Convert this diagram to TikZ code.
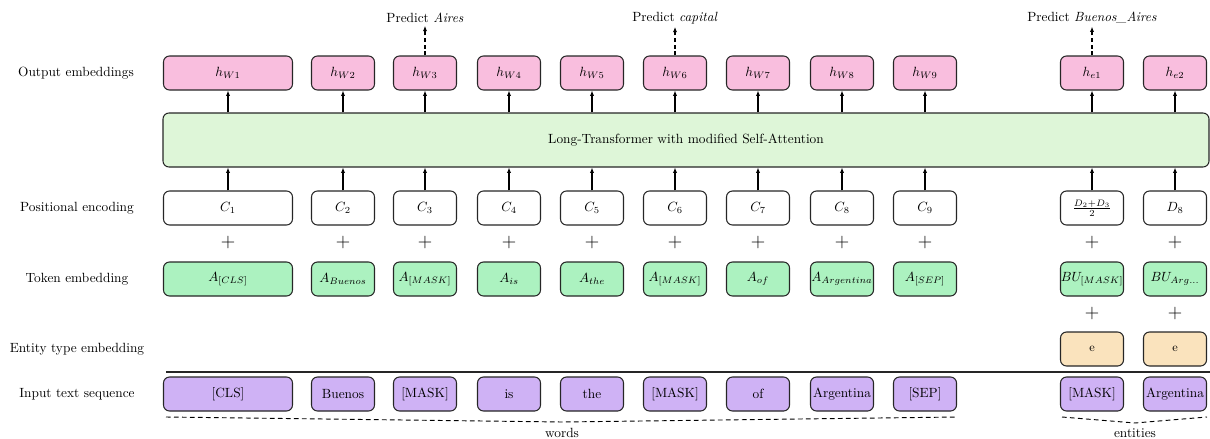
\documentclass[tikz,border=0pt]{standalone}
\usetikzlibrary{arrows.meta}
\definecolor{outpink}{RGB}{249,190,222}
\definecolor{tfgreen}{RGB}{222,246,216}
\definecolor{tokgreen}{RGB}{172,242,192}
\definecolor{entorange}{RGB}{250,227,189}
\definecolor{inpurple}{RGB}{207,178,245}
\begin{document}
\begin{tikzpicture}[x=0.75pt,y=-0.75pt,
  box/.style={draw=black!85, line width=0.8pt, rounded corners=4.5pt,
    minimum width=47.25pt, minimum height=25.5pt, inner sep=0pt},
  wide/.style={minimum width=96.75pt},
  outbox/.style={box, fill=outpink},
  posbox/.style={box, fill=white},
  tokbox/.style={box, fill=tokgreen},
  entbox/.style={box, fill=entorange},
  inbox/.style={box, fill=inpurple},
  rowlabel/.style={anchor=center, inner sep=0pt},
  arr/.style={line width=0.8pt, -{Latex[length=4pt,width=3.2pt]}},
  predarr/.style={arr, dashed, dash pattern=on 3pt off 2pt},
  brace/.style={line width=0.7pt, dash pattern=on 3.5pt off 2.5pt},
  plus/.style={inner sep=0pt, font=\fontsize{15}{17}\selectfont}
]
\useasboundingbox (0,0) rectangle (1210,439);

% row labels
\node[rowlabel] (lout) at (76,73)  {Output embeddings};
\node[rowlabel] (lpos) at (77,208) {Positional encoding};
\node[rowlabel] (ltok) at (77,279) {Token embedding};
\node[rowlabel] (lent) at (77,349) {Entity type embedding};
\node[rowlabel] (linp) at (77,394) {Input text sequence};

% output embeddings
\node[outbox, wide] (o1) at (228,73) {$h_{W1}$};
\node[outbox] (o2) at (343,73) {$h_{W2}$};
\node[outbox] (o3) at (425,73) {$h_{W3}$};
\node[outbox] (o4) at (509,73) {$h_{W4}$};
\node[outbox] (o5) at (592,73) {$h_{W5}$};
\node[outbox] (o6) at (675,73) {$h_{W6}$};
\node[outbox] (o7) at (758,73) {$h_{W7}$};
\node[outbox] (o8) at (842,73) {$h_{W8}$};
\node[outbox] (o9) at (925,73) {$h_{W9}$};
\node[outbox] (oe1) at (1092,73) {$h_{e1}$};
\node[outbox] (oe2) at (1175,73) {$h_{e2}$};

% predictions
\node[inner sep=2pt] (pr3) at (425,18) {Predict \textit{Aires}};
\node[inner sep=2pt] (pr6) at (675,18) {Predict \textit{capital}};
\node[inner sep=2pt] (pre1) at (1092,18) {Predict \textit{Buenos\_Aires}};
\draw[predarr] (o3.north) -- (o3.north |- pr3.south);
\draw[predarr] (o6.north) -- (o6.north |- pr6.south);
\draw[predarr] (oe1.north) -- (oe1.north |- pre1.south);

% transformer
\node[box, fill=tfgreen, minimum width=784.5pt, minimum height=40.5pt]
  (tf) at (686,140) {Long-Transformer with modified Self-Attention};

% positional encodings
\node[posbox, wide] (p1) at (228,208) {$C_1$};
\node[posbox] (p2) at (343,208) {$C_2$};
\node[posbox] (p3) at (425,208) {$C_3$};
\node[posbox] (p4) at (509,208) {$C_4$};
\node[posbox] (p5) at (592,208) {$C_5$};
\node[posbox] (p6) at (675,208) {$C_6$};
\node[posbox] (p7) at (758,208) {$C_7$};
\node[posbox] (p8) at (842,208) {$C_8$};
\node[posbox] (p9) at (925,208) {$C_9$};
\node[posbox] (pe1) at (1092,208) {$\frac{D_2+D_3}{2}$};
\node[posbox] (pe2) at (1175,208) {$D_8$};

% arrows through the transformer
\foreach \n in {1,2,3,4,5,6,7,8,9,e1,e2} {
  \draw[arr] (tf.north -| o\n.south) -- (o\n.south);
  \draw[arr] (p\n.north) -- (tf.south -| p\n.north);
}

% plus signs
\foreach \n/\x in {1/228,2/343,3/425,4/509,5/592,6/675,7/758,8/842,9/925,e1/1092,e2/1175}
  \node[plus] (pl\n) at (\x,243) {+};
\node[plus] (ple1b) at (1092,314) {+};
\node[plus] (ple2b) at (1175,314) {+};

% token embeddings
\node[tokbox, wide] (t1) at (228,279) {$A_{[CLS]}$};
\node[tokbox] (t2) at (343,279) {$A_{Buenos}$};
\node[tokbox] (t3) at (425,279) {$A_{[MASK]}$};
\node[tokbox] (t4) at (509,279) {$A_{is}$};
\node[tokbox] (t5) at (592,279) {$A_{the}$};
\node[tokbox] (t6) at (675,279) {$A_{[MASK]}$};
\node[tokbox] (t7) at (758,279) {$A_{of}$};
\node[tokbox] (t8) at (842,279) {$A_{Argentina}$};
\node[tokbox] (t9) at (925,279) {$A_{[SEP]}$};
\node[tokbox] (te1) at (1092,279) {$BU_{[MASK]}$};
\node[tokbox] (te2) at (1175,279) {$BU_{Arg...}$};

% entity type embeddings
\node[entbox] (ee1) at (1092,349) {\small e};
\node[entbox] (ee2) at (1175,349) {\small e};

% separator
\coordinate (sepL) at (166,372);
\coordinate (sepR) at (1210,372);
\draw[line width=0.8pt, black!85] (sepL) -- (sepR);

% input text sequence
\node[inbox, wide] (i1) at (228,394) {[CLS]};
\node[inbox] (i2) at (343,394) {Buenos};
\node[inbox] (i3) at (425,394) {[MASK]};
\node[inbox] (i4) at (509,394) {is};
\node[inbox] (i5) at (592,394) {the};
\node[inbox] (i6) at (675,394) {[MASK]};
\node[inbox] (i7) at (758,394) {of};
\node[inbox] (i8) at (842,394) {Argentina};
\node[inbox] (i9) at (925,394) {[SEP]};
\node[inbox] (ie1) at (1092,394) {[MASK]};
\node[inbox] (ie2) at (1175,394) {Argentina};

% groupings
\coordinate (wl) at (166,417);
\coordinate (wm) at (562,422);
\coordinate (wr) at (957,417);
\draw[brace] (wl) -- (wm) -- (wr);
\node[inner sep=0pt] (words) at (562,433) {words};
\coordinate (el) at (1062,417);
\coordinate (em) at (1135,423);
\coordinate (er) at (1207,417);
\draw[brace] (el) -- (em) -- (er);
\node[inner sep=0pt] (ents) at (1135,433) {entities};
\end{tikzpicture}
\end{document}
